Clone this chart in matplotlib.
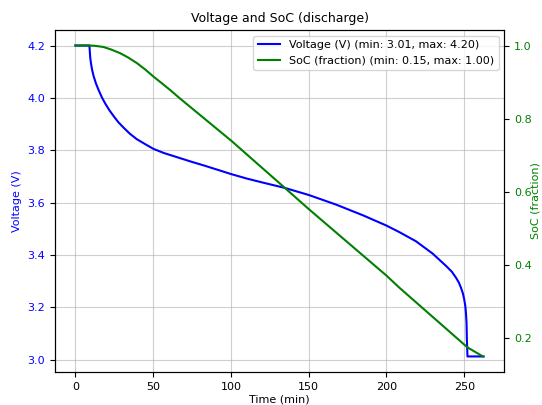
import matplotlib
matplotlib.use("Agg")
import matplotlib.pyplot as plt

# Voltage trace (time in min, voltage in V)
t_v = [0, 5, 9.0, 9.5, 10.0, 10.8, 11.7, 13.2, 14.9, 17.0, 19.2, 21.8, 24.6, 27.6, 31.0,
       35.0, 39.5, 44.9, 50.2, 57.0, 65.0, 74.0, 83.0, 91.0, 100.0, 110.0, 120.0,
       134.6, 150.0, 167.7, 185.0, 200.0, 208.3, 219.0, 229.7, 238.3, 242.0, 244.7,
       246.5, 247.9, 249.2, 250.0, 250.7, 251.1, 251.5, 251.7, 252.0, 252.1, 262.5]
volt = [4.20, 4.20, 4.20, 4.155, 4.132, 4.105, 4.083, 4.055, 4.030, 4.002, 3.978, 3.953,
        3.930, 3.907, 3.886, 3.863, 3.842, 3.823, 3.805, 3.789, 3.774, 3.757, 3.741,
        3.726, 3.709, 3.692, 3.677, 3.656, 3.629, 3.592, 3.551, 3.512, 3.487, 3.452,
        3.405, 3.358, 3.336, 3.313, 3.295, 3.275, 3.252, 3.230, 3.205, 3.180, 3.14,
        3.08, 3.03, 3.012, 3.012]

# State of charge trace
t_s = [0, 5, 9.0, 13.0, 18.0, 23.0, 28.8, 34.0, 39.5, 45.0, 50.2, 55.5, 61.0, 67.3,
       100.4, 134.6, 150.0, 200.0, 208.3, 252.0, 262.0]
soc = [1.0, 1.0, 1.0, 0.999, 0.996, 0.989, 0.979, 0.967, 0.952, 0.934, 0.915, 0.897,
       0.878, 0.855, 0.739, 0.611, 0.553, 0.371, 0.338, 0.175, 0.150]

plt.rcParams['font.family'] = ['DejaVu Sans']
fig = plt.figure(figsize=(5.42, 4.05), dpi=100)
ax = fig.add_axes([0.1015, 0.0815, 0.8285, 0.8445])
ax2 = ax.twinx()

l1, = ax.plot(t_v, volt, color='b', lw=1.5,
              label=f"Voltage (V) (min: {min(volt):.2f}, max: {max(volt):.2f})")
l2, = ax2.plot(t_s, soc, color='g', lw=1.5,
               label=f"SoC (fraction) (min: {min(soc):.2f}, max: {max(soc):.2f})")

fs = 8
ax.set_title("Voltage and SoC (discharge)", fontsize=9)
ax.set_xlabel("Time (min)", fontsize=fs, labelpad=2)
ax.set_ylabel("Voltage (V)", color='b', fontsize=fs)
ax2.set_ylabel("SoC (fraction)", color='g', fontsize=fs, labelpad=-1)
ax.tick_params(axis='y', labelcolor='b', labelsize=fs)
ax.tick_params(axis='x', labelsize=fs)
ax2.tick_params(axis='y', labelcolor='g', labelsize=fs)
ax.grid(True, alpha=0.6)
ax.legend(handles=[l1, l2], loc='upper right', fontsize=fs)

fig.savefig("out.png", dpi=100)
